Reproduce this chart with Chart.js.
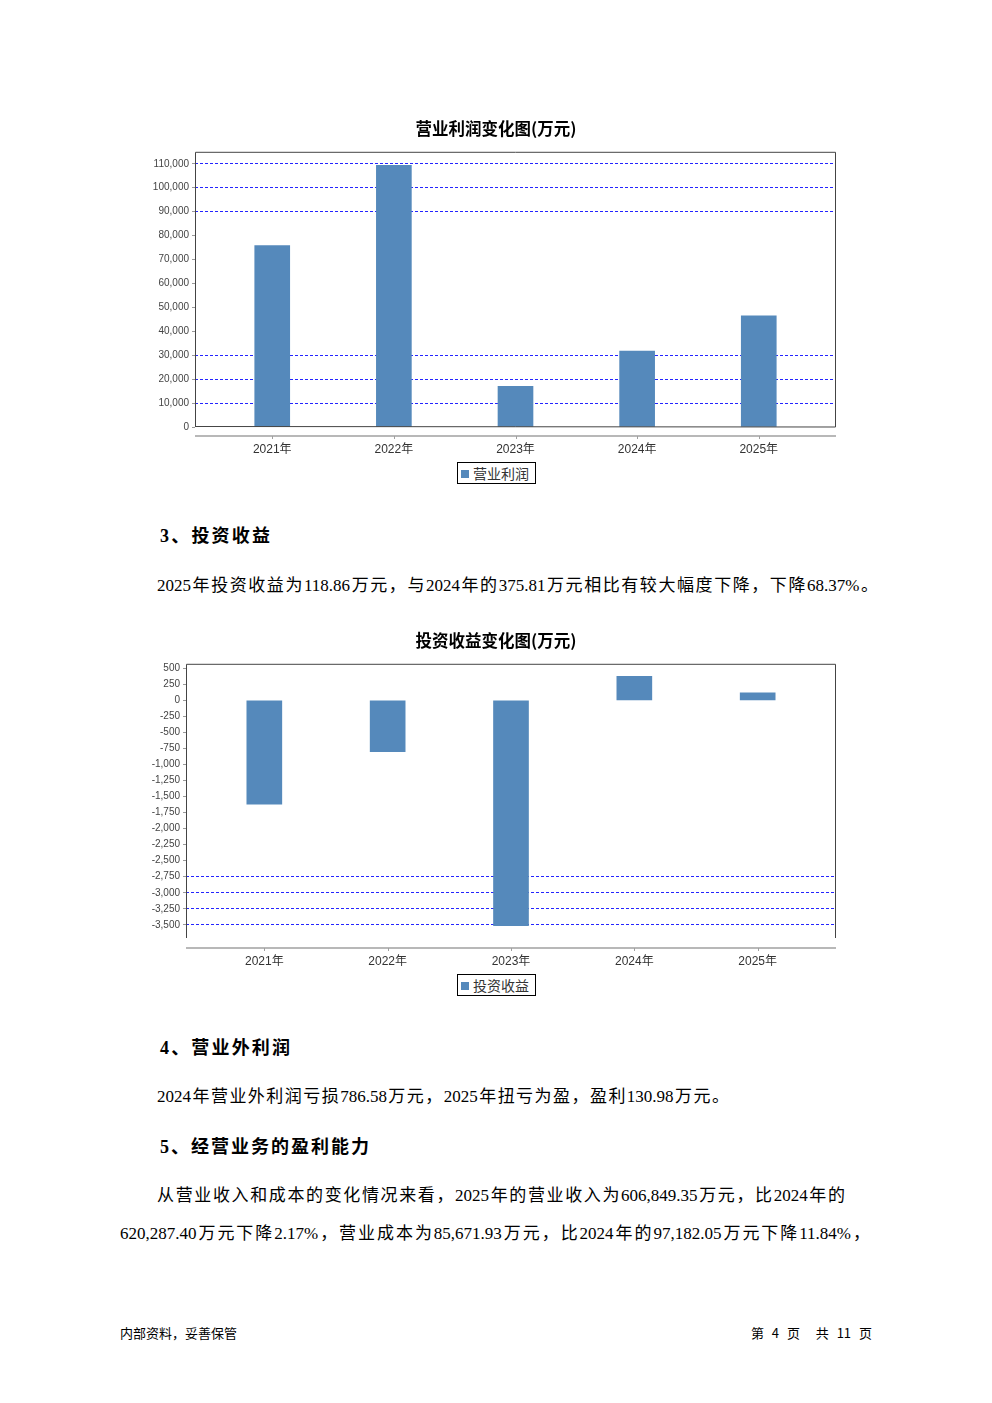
<!DOCTYPE html>
<html>
<head>
<meta charset="utf-8">
<script src="https://cdn.jsdelivr.net/npm/chart.js@4.4.1/dist/chart.umd.min.js"></script>
<style>
html, body { margin: 0; padding: 0; background: #fff; }
body { width: 992px; height: 1403px; position: relative; overflow: hidden; color: #000;
       font-family: "Liberation Serif", "Noto Sans CJK SC", serif; }
.ln { position: absolute; height: 30px; line-height: 30px; font-size: 17px;
      text-align: justify; text-align-last: justify; }
.hd { font-weight: bold; font-size: 18px; }
.box { position: absolute; }
.legend { position: absolute; border: 1px solid #000; height: 22px; line-height: 20px;
          font-family: "Noto Sans CJK SC", sans-serif; font-size: 14px; color: #333;
          padding: 0 2px 0 3px; box-sizing: border-box; white-space: nowrap; }
.legend i { display: inline-block; width: 8px; height: 8px; background: #5589bb; margin-right: 4px; vertical-align: 1px; }
.foot { position: absolute; font-size: 13px; line-height: 16px; font-family: "Noto Sans CJK SC", sans-serif; white-space: pre; }
</style>
</head>
<body>

<div class="box" style="left:140px;top:110px;"><canvas id="chartProfit" width="712" height="347"></canvas></div>
<div class="legend" style="left:457px;top:462px;width:79px;"><i></i>营业利润</div>

<div class="ln hd" style="left:160px;top:521px;width:110px;">3、投资收益</div>
<div class="ln" style="left:157px;top:571px;width:721px;">2025年投资收益为118.86万元，与2024年的375.81万元相比有较大幅度下降，下降68.37%。</div>

<div class="box" style="left:140px;top:620px;"><canvas id="chartInvest" width="712" height="350"></canvas></div>
<div class="legend" style="left:457px;top:974px;width:79px;"><i></i>投资收益</div>

<div class="ln hd" style="left:160px;top:1033px;width:130px;">4、营业外利润</div>
<div class="ln" style="left:157px;top:1082px;width:572px;">2024年营业外利润亏损786.58万元，2025年扭亏为盈，盈利130.98万元。</div>

<div class="ln hd" style="left:160px;top:1132px;width:209px;">5、经营业务的盈利能力</div>
<div class="ln" style="left:157px;top:1181px;width:688px;">从营业收入和成本的变化情况来看，2025年的营业收入为606,849.35万元，比2024年的</div>
<div class="ln" style="left:120px;top:1219px;width:750px;">620,287.40万元下降2.17%，营业成本为85,671.93万元，比2024年的97,182.05万元下降11.84%，</div>

<div class="foot" style="left:120px;top:1325px;">内部资料，妥善保管</div>
<div class="foot" style="right:120px;top:1325px;word-spacing:5px;">第 4 页  共 11 页</div>

<script>
// --- datos ---
const years = ['2021年', '2022年', '2023年', '2024年', '2025年'];
const profitValues = [75800, 109300, 17000, 31700, 46500];
const profitTicks = [0, 10000, 20000, 30000, 40000, 50000, 60000, 70000, 80000, 90000, 100000, 110000];
const investValues = [-1619, -800, -3511, 375.81, 118.86];
const investTicks = [500, 250, 0, -250, -500, -750, -1000, -1250, -1500, -1750, -2000, -2250, -2500, -2750, -3000, -3250, -3500];

const BAR_COLOR = '#5589bb';
const GRID_COLOR = '#2424ff';

// marco del área + eje X separado (estilo JFreeChart)
const framePlugin = {
    id: 'frame',
    afterDatasetsDraw(chart, args, opts) {
        const { ctx, chartArea: a } = chart;
        ctx.save();
        ctx.strokeStyle = '#444';
        ctx.lineWidth = 1;
        ctx.beginPath();
        ctx.moveTo(a.left + 0.5, a.bottom);
        ctx.lineTo(a.left + 0.5, a.top + 0.5);
        ctx.lineTo(a.right - 0.5, a.top + 0.5);
        ctx.lineTo(a.right - 0.5, a.bottom);
        if (opts.bottomEdge) ctx.lineTo(a.left + 0.5, a.bottom - 0.5);
        ctx.stroke();

        // línea del eje de categorías
        const y = a.bottom + opts.gap;
        ctx.strokeStyle = '#a0a0a0';
        ctx.lineWidth = 1.5;
        ctx.beginPath();
        ctx.moveTo(a.left, y);
        ctx.lineTo(a.right, y);
        ctx.stroke();
        const xs = chart.scales.x;
        ctx.lineWidth = 1;
        years.forEach((_, i) => {
            const px = Math.round(xs.getPixelForValue(i)) + 0.5;
            ctx.beginPath();
            ctx.moveTo(px, y);
            ctx.lineTo(px, y + 3);
            ctx.stroke();
        });
        ctx.restore();
    }
};

function crearGrafico(id, cfg) {
    const ctx = document.getElementById(id).getContext('2d');
    return new Chart(ctx, {
        type: 'bar',
        data: {
            datasets: [{
                label: cfg.label,
                data: cfg.values.map((v, i) => ({ x: i, y: v })),
                backgroundColor: BAR_COLOR,
                borderWidth: 0,
                barThickness: 35
            }]
        },
        plugins: [framePlugin],
        options: {
            responsive: false,
            animation: false,
            layout: { padding: 0 },
            plugins: {
                legend: { display: false },
                tooltip: { enabled: false },
                title: {
                    display: true,
                    text: cfg.title,
                    color: '#000',
                    font: { family: '"Noto Sans CJK SC", sans-serif', size: 16.5, weight: 'bold' },
                    padding: cfg.titlePad
                },
                frame: { gap: cfg.axisGap, bottomEdge: cfg.bottomEdge }
            },
            scales: {
                x: {
                    type: 'linear',
                    min: -0.635,
                    max: 4.635,
                    offset: false,
                    grid: { display: false, drawTicks: false, offset: false },
                    border: { display: false },
                    afterBuildTicks: (axis) => { axis.ticks = years.map((_, i) => ({ value: i })); },
                    afterFit: (axis) => { axis.height = cfg.xHeight; },
                    ticks: {
                        autoSkip: false,
                        maxRotation: 0,
                        padding: cfg.xPad,
                        color: '#333',
                        font: { family: '"Liberation Sans", "Noto Sans CJK SC", sans-serif', size: 12 },
                        callback: (v) => years[v]
                    }
                },
                y: {
                    min: cfg.min,
                    max: cfg.max,
                    afterBuildTicks: (axis) => { axis.ticks = cfg.ticks.map(v => ({ value: v })); },
                    afterFit: (axis) => { axis.width = cfg.yWidth; },
                    grid: {
                        color: (c) => (c.tick && cfg.gridShown.includes(c.tick.value)) ? GRID_COLOR : 'rgba(255,255,255,0)',
                        lineWidth: 1,
                        drawTicks: true,
                        tickLength: 3,
                        tickColor: '#999'
                    },
                    border: { display: false, dash: [3, 2] },
                    ticks: {
                        padding: 3,
                        color: '#444',
                        font: { family: '"Liberation Sans", sans-serif', size: 10 },
                        callback: (v) => Number(v).toLocaleString('en-US')
                    }
                },
                // eje vacío a la derecha: reserva margen para centrar el título
                yPad: {
                    position: 'right',
                    min: cfg.min,
                    max: cfg.max,
                    grid: { display: false },
                    border: { display: false },
                    ticks: { display: false },
                    afterFit: (axis) => { axis.width = 16; }
                }
            }
        }
    });
}

crearGrafico('chartProfit', {
    label: '营业利润',
    title: '营业利润变化图(万元)',
    values: profitValues,
    ticks: profitTicks,
    min: 0, max: 115000,
    gridShown: [10000, 20000, 30000, 90000, 100000, 110000],
    titlePad: { top: 9, bottom: 13 },
    yWidth: 55, xHeight: 30, xPad: 15, axisGap: 9, bottomEdge: true
});

crearGrafico('chartInvest', {
    label: '投资收益',
    title: '投资收益变化图(万元)',
    values: investValues,
    ticks: investTicks,
    min: -3705, max: 570,
    gridShown: [-2750, -3000, -3250, -3500],
    titlePad: { top: 10.8, bottom: 13.2 },
    yWidth: 46, xHeight: 32, xPad: 16, axisGap: 10, bottomEdge: false
});
</script>
</body>
</html>
